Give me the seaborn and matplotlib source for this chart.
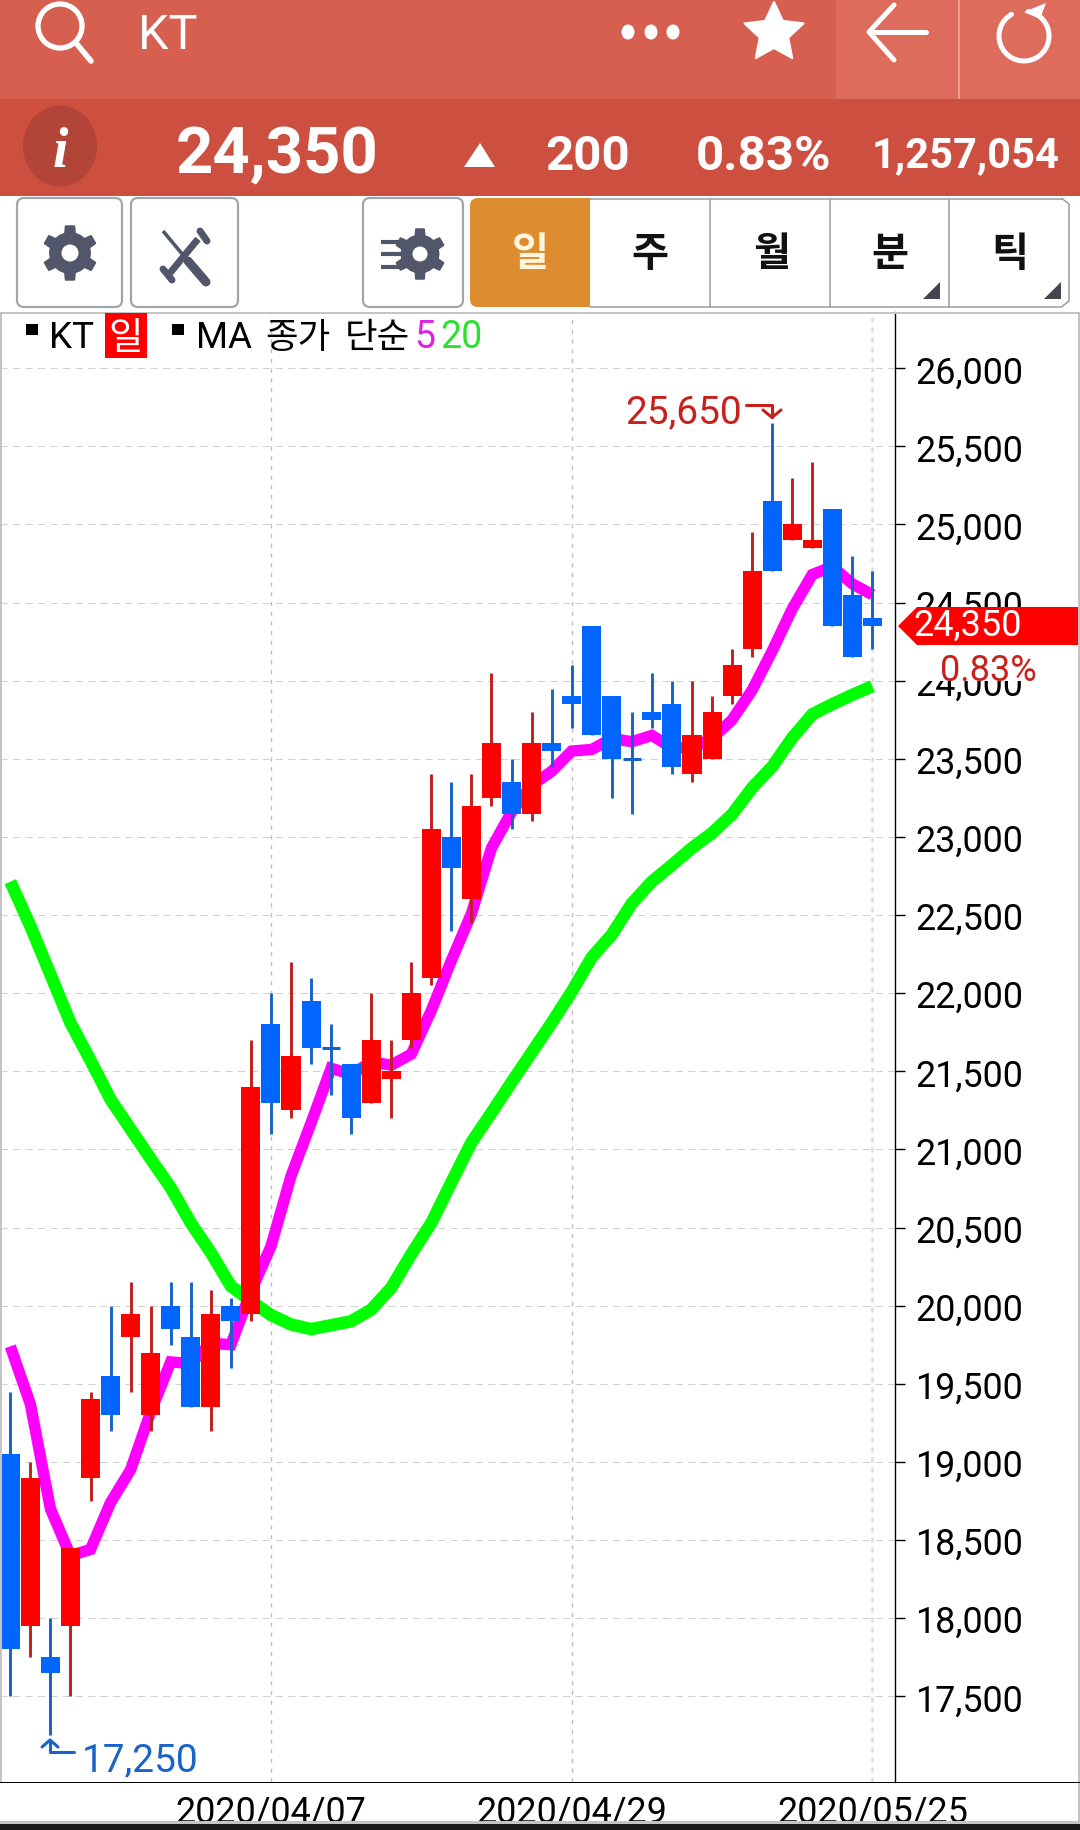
import numpy as np
import pandas as pd
import matplotlib
matplotlib.use('Agg')
import matplotlib.pyplot as plt
from matplotlib.patches import Rectangle, FancyBboxPatch, Polygon, Ellipse, Circle
import seaborn as sns

# Candles, left to right (one per trading day)
candle_high = [19450, 19000, 18000, 18450, 19450, 20000, 20150, 20000, 20150, 20150, 20100,
               20050, 21700, 22000, 22200, 22100, 21800, 21550, 22000, 21700, 22200, 23400,
               23350, 23400, 24050, 23500, 23800, 23950, 24100, 24350, 23900, 23800, 24050,
               24000, 24000, 23900, 24200, 24950, 25650, 25300, 25400, 25100, 24800, 24700]
candle_low = [17500, 17750, 17250, 17500, 18750, 19200, 19450, 19200, 19750, 19350, 19200,
              19600, 19900, 21100, 21200, 21550, 21350, 21100, 21300, 21200, 21650, 22050,
              22400, 22450, 23200, 23050, 23100, 23450, 23700, 23650, 23250, 23150, 23700,
              23400, 23350, 23500, 23850, 24150, 24700, 24900, 24850, 24350, 24150, 24200]
body_top = [19050, 18900, 17750, 18450, 19400, 19550, 19950, 19700, 20000, 19800, 19950,
            20000, 21400, 21800, 21600, 21950, 21650, 21550, 21700, 21500, 22000, 23050,
            23000, 23200, 23600, 23350, 23600, 23600, 23900, 24350, 23900, 23500, 23800,
            23850, 23650, 23800, 24100, 24700, 25150, 25000, 24900, 25100, 24550, 24400]
body_bottom = [17800, 17950, 17650, 17950, 18900, 19300, 19800, 19300, 19850, 19350, 19350,
               19900, 19950, 21300, 21250, 21650, 21650, 21200, 21300, 21450, 21700, 22100,
               22800, 22600, 23250, 23150, 23150, 23550, 23850, 23650, 23500, 23500, 23750,
               23450, 23400, 23500, 23900, 24200, 24700, 24900, 24850, 24350, 24150, 24350]
candle_up = [0, 1, 0, 1, 1, 0, 1, 1, 0, 0, 1,
             0, 1, 0, 1, 0, 0, 0, 1, 1, 1, 1,
             0, 1, 1, 0, 1, 0, 0, 0, 0, 0, 0,
             0, 1, 1, 1, 1, 0, 1, 1, 0, 0, 0]

# Moving averages
ma5 = [19740, 19370, 18700, 18400, 18440, 18740, 18950, 19320, 19640, 19630, 19760,
       19750, 20090, 20380, 20830, 21170, 21520, 21480, 21560, 21540, 21610, 21890,
       22210, 22510, 22930, 23160, 23330, 23420, 23550, 23560, 23630, 23610, 23650,
       23570, 23570, 23630, 23750, 23940, 24190, 24460, 24680, 24730, 24620, 24550]
ma20 = [22714, 22430, 22120, 21810, 21570, 21320, 21130, 20940, 20755, 20530, 20340,
        20125, 20030, 19940, 19880, 19850, 19875, 19900, 19975, 20115, 20330, 20530,
        20790, 21045, 21235, 21430, 21620, 21810, 22010, 22230, 22375, 22575, 22715,
        22820, 22930, 23025, 23145, 23315, 23450, 23635, 23785, 23850, 23910, 23965]

y_ticks = list(range(17500, 26001, 500))
date_positions = [13, 28, 43]
date_labels = ['2020/04/07', '2020/04/29', '2020/05/25']

RED = '#ff0000'
RED_WICK = '#c41f1f'
BLUE = '#0066ff'
BLUE_WICK = '#1762c8'
GREY_ICON = '#51566a'
W, H = 1080, 1831

sns.set_theme(style='white')
plt.rcParams['font.family'] = ['Roboto', 'Noto Sans CJK KR', 'DejaVu Sans']

fig = plt.figure(figsize=(W / 100, H / 100), dpi=100, facecolor='white')

# Chart axes, placed by pixels
left, right, top, bottom = 0, 895.3, 313, 1783.3
ax = fig.add_axes([left / W, 1 - bottom / H, (right - left) / W, (bottom - top) / H])
ax.set_xlim(-0.514, 44.14)
ax.set_ylim(16949.5, 26360)

df = pd.DataFrame({'idx': range(len(ma5)), 'ma5': ma5, 'ma20': ma20})
sns.lineplot(data=df, x='idx', y='ma20', color='#00ff00', linewidth=9.0, ax=ax,
             solid_capstyle='butt', solid_joinstyle='miter', zorder=3)
sns.lineplot(data=df, x='idx', y='ma5', color='#ff00ff', linewidth=8.2, ax=ax,
             solid_capstyle='butt', solid_joinstyle='miter', zorder=3)

# Candles on top of the averages
for i in range(len(candle_high)):
    body_c = RED if candle_up[i] else BLUE
    wick_c = RED_WICK if candle_up[i] else BLUE_WICK
    ax.vlines(i, candle_low[i], candle_high[i], color=wick_c, linewidth=2.1, zorder=4)
    if body_top[i] == body_bottom[i]:
        ax.hlines(body_top[i], i - 0.45, i + 0.45, color=wick_c, linewidth=2.2, zorder=5)
    else:
        ax.bar(i, body_top[i] - body_bottom[i], bottom=body_bottom[i], width=0.95,
               color=body_c, linewidth=0, zorder=5)

ax.set_xlabel('')
ax.set_ylabel('')
ax.set_xticks(date_positions)
ax.set_xticklabels(date_labels)
ax.set_yticks(y_ticks)
ax.set_yticklabels([f'{v:,}' for v in y_ticks])
ax.yaxis.tick_right()
ax.tick_params(axis='y', length=7.2, width=1.0, color='black', pad=7.2, labelsize=25.8, labelcolor='black')
ax.tick_params(axis='x', length=6, width=1.2, color='#555555', pad=1.8, labelsize=25.8, labelcolor='black')
ax.grid(True, axis='y', color='#d2d2d2', linewidth=0.75, linestyle=(0, (7, 5)), zorder=0)
ax.grid(True, axis='x', color='#bdbdbd', linewidth=1.0, linestyle=(0, (3, 4)), zorder=0)
ax.get_xgridlines()[2].set_linewidth(1.8)
ax.get_xgridlines()[2].set_linestyle((0, (2, 2)))
ax.get_xgridlines()[2].set_color('#dddddd')
for s in ['left', 'top', 'bottom']:
    ax.spines[s].set_visible(False)
ax.spines['right'].set_color('black')
ax.spines['right'].set_linewidth(1.0)

# Everything around the chart goes on a pixel overlay
ui = fig.add_axes([0, 0, 1, 1], zorder=5)
ui.set_xlim(0, W)
ui.set_ylim(H, 0)
ui.axis('off')
ui.patch.set_alpha(0)


def box(x0, y0, x1, y1, color, z=1):
    ui.add_patch(Rectangle((x0, y0), x1 - x0, y1 - y0, facecolor=color, edgecolor='none', zorder=z))


def label(x, y, s, size, color='black', weight='normal', ha='left', **kw):
    ui.text(x, y, s, fontsize=size, color=color, fontweight=weight, ha=ha, va='baseline', zorder=6, **kw)


def gear(cx, cy, r_out, r_in, hole):
    angles, radii = [], []
    for k in range(6):
        a = np.deg2rad(90 + 60 * k)
        for da, r in [(-30, r_in), (-14, r_in), (-9, r_out), (9, r_out), (14, r_in)]:
            angles.append(a + np.deg2rad(da))
            radii.append(r)
    pts = np.c_[cx + np.array(radii) * np.cos(angles), cy + np.array(radii) * np.sin(angles)]
    ui.add_patch(Polygon(pts, closed=True, facecolor=GREY_ICON, edgecolor=GREY_ICON, linewidth=1.5,
                         joinstyle='round', zorder=3))
    ui.add_patch(Circle((cx, cy), hole, facecolor='white', edgecolor='none', zorder=4))


# Frame and bottom edge
box(0, 313, W, 315, '#c4c4c4')
box(0, 313, 2, 1783, '#c4c4c4')
box(1078, 313, W, 1824, '#c4c4c4')
box(0, 1782.6, W, 1784, 'black')
box(0, 1822, W, 1826, '#c4c4c4', z=7)
box(0, 1825, W, H, '#1a1a1a', z=7)

# Header bands
box(0, 0, W, 100, '#d65f4f')
box(836, 0, W, 100, '#de6c5c')
box(958, 0, 959.5, 100, '#eb9d90', z=2)
box(0, 100, W, 197, '#cd4f40')

# Magnifier, dots, star, back arrow, reload
white = dict(color='white', solid_capstyle='round', zorder=3)
ui.add_patch(Circle((60, 27), 22, facecolor='none', edgecolor='white', linewidth=3.8, zorder=3))
ui.plot([76, 91], [44, 62], linewidth=4, **white)
ui.text(168, 49, 'KT', fontsize=35, color='white', ha='center', va='baseline', zorder=6)
for x in [628, 651, 673]:
    ui.add_patch(Ellipse((x, 33), 13, 15, facecolor='white', edgecolor='none', zorder=3))
star_a = np.deg2rad(-90 + 36 * np.arange(10))
star_r = np.where(np.arange(10) % 2 == 0, 31, 15)
ui.add_patch(Polygon(np.c_[774 + star_r * np.cos(star_a), 34 + star_r * np.sin(star_a)],
                     closed=True, facecolor='white', edgecolor='white', linewidth=1.5, joinstyle='round', zorder=3))
ui.plot([926, 870], [33, 33], linewidth=3.6, **white)
ui.plot([894, 869, 894], [6, 33, 61], linewidth=3.6, **white)
arc = np.deg2rad(np.linspace(120, 440, 60))
ui.plot(1024 + 25 * np.cos(arc), 37 - 25 * np.sin(arc), linewidth=3.6, **white)
ui.add_patch(Polygon([[1024, 13], [1046, 4], [1040, 20]], closed=True, facecolor='white', edgecolor='none', zorder=3))

# Price row
ui.add_patch(Ellipse((60, 147), 74, 81, facecolor='#b24538', edgecolor='none', zorder=3))
ui.text(60, 167, 'i', fontsize=40, color='white', fontweight='bold', fontstyle='italic', family='Liberation Serif',
        ha='center', va='baseline', zorder=6)
label(176, 173, '24,350', 47, 'white', 'bold')
ui.add_patch(Polygon([[480, 144], [464, 168], [495, 168]], closed=True, facecolor='white', edgecolor='none', zorder=3))
label(545, 170, '200', 35.5, 'white', 'bold')
label(696, 170, '0.83%', 35.5, 'white', 'bold')
label(872, 167, '1,257,054', 30, 'white', 'bold')

# Toolbar buttons
for x0, x1 in [(17, 122), (131, 238), (363, 463)]:
    ui.add_patch(FancyBboxPatch((x0 + 5, 204), x1 - x0 - 10, 99, boxstyle='round,pad=5,rounding_size=7',
                                facecolor='white', edgecolor='#a3a5ab', linewidth=1.6, zorder=2))
gear(70, 254, 27, 20, 8.5)
gear(420, 255, 25, 18.5, 7.5)
for y in [243, 255, 268]:
    ui.plot([381, 401], [y, y], color=GREY_ICON, linewidth=3, solid_capstyle='butt', zorder=3)
# screwdriver
ui.plot([163, 188], [232, 262], color=GREY_ICON, linewidth=2.6, solid_capstyle='butt', zorder=3)
ui.plot([188, 206], [262, 283], color=GREY_ICON, linewidth=6.5, solid_capstyle='round', zorder=3)
# wrench
ui.plot([198, 170], [240, 274], color=GREY_ICON, linewidth=5, solid_capstyle='butt', zorder=3)
ui.plot([200, 207], [232, 242], color=GREY_ICON, linewidth=5, solid_capstyle='round', zorder=3)
ui.plot([163, 172], [270, 281], color=GREY_ICON, linewidth=5, solid_capstyle='round', zorder=3)

# Period tabs
ui.add_patch(FancyBboxPatch((476, 205), 108, 97, boxstyle='round,pad=6,rounding_size=8',
                            facecolor='#de8c30', edgecolor='none', zorder=3))
box(575, 199, 590, 308, '#de8c30', z=3)
ui.plot([590, 1062], [199.5, 199.5], color='#9a9ca2', linewidth=1.1, zorder=2)
ui.plot([590, 1062], [307.5, 307.5], color='#9a9ca2', linewidth=1.1, zorder=2)
for x in [710, 830, 949]:
    ui.plot([x, x], [199.5, 307.5], color='#9a9ca2', linewidth=1.1, zorder=2)
ui.plot([1062, 1069, 1069, 1062], [199.5, 205, 302, 307.5], color='#9a9ca2', linewidth=1.1, zorder=2)
for x, s, c in [(530, '일', '#fff6dc'), (650, '주', '#111111'), (772, '월', '#111111'),
                (890, '분', '#111111'), (1010, '틱', '#111111')]:
    label(x, 266, s, 29, c, 'bold', ha='center')
ui.add_patch(Polygon([[940, 283], [940, 300], [923, 300]], closed=True, facecolor='#44464f', edgecolor='none', zorder=3))
ui.add_patch(Polygon([[1061, 283], [1061, 300], [1044, 300]], closed=True, facecolor='#44464f', edgecolor='none', zorder=3))

# Chart legend
box(26, 325, 38, 336, 'black')
label(49, 348, 'KT', 26.5)
box(105, 314, 147, 359, '#ff0000', z=3)
label(126, 349, '일', 27, 'white', ha='center')
box(172, 325, 184, 336, 'black')
label(196, 348, 'MA', 26.5)
label(265, 348, '종가', 25.5)
label(345, 348, '단순', 25.5)
label(414, 348, '5', 27, '#e020e0')
label(440, 348, '20', 27, '#2fe02f')

# High and low markers
label(625, 423, '25,650', 28, '#c8201c')
red_mark = dict(color='#c8201c', linewidth=2.2, zorder=6)
ui.plot([746, 772, 772], [406, 406, 418], **red_mark)
ui.plot([763, 772, 781], [411, 418.5, 411], **red_mark)
label(82, 1771, '17,250', 28, '#1a63c8')
blue_mark = dict(color='#1a63c8', linewidth=2.2, zorder=6)
ui.plot([74, 50, 50], [1753, 1753, 1742], **blue_mark)
ui.plot([42, 50, 58], [1748, 1741, 1748], **blue_mark)

# Last price tag
ui.add_patch(Polygon([[898, 627], [917, 608], [1078, 608], [1078, 646], [917, 646]], closed=True,
                     facecolor='#ff0000', edgecolor='none', zorder=3))
label(913, 636, '24,350', 26, 'white')
box(906, 646, 1078, 682, 'white', z=3)
label(940, 681, '0.83%', 26, '#c8201c')

fig.savefig('out.png', dpi=100)
